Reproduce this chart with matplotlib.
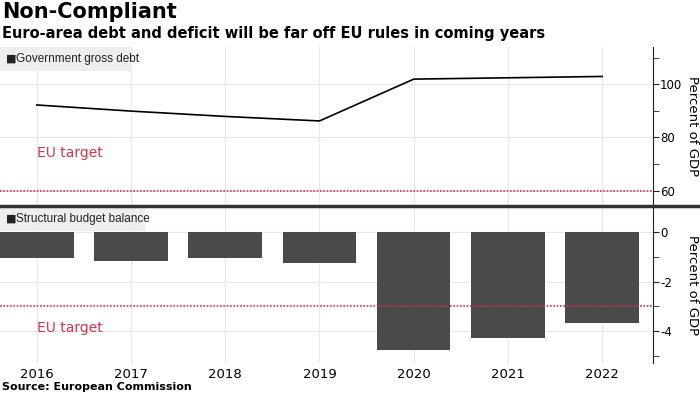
import matplotlib.pyplot as plt
from matplotlib.lines import Line2D
from matplotlib.patches import Rectangle

years = [2016, 2017, 2018, 2019, 2020, 2021, 2022]
debt = [92.2, 89.9, 87.9, 86.2, 101.9, 102.4, 102.9]
balance = [-1.04, -1.16, -1.06, -1.27, -4.76, -4.26, -3.67]
debt_target = 60
balance_target = -3

red = '#d9324b'
bar_color = '#4a4a4a'
grid_color = '#e8e8e8'

fig = plt.figure(figsize=(7, 3.94), dpi=100)
ax1 = fig.add_axes([0.0, 0.480, 0.933, 0.401])
ax2 = fig.add_axes([0.0, 0.079, 0.933, 0.396], sharex=ax1)

for ax in (ax1, ax2):
    for s in ('left', 'top', 'bottom'):
        ax.spines[s].set_visible(False)
    ax.spines['right'].set_color('#222222')
    ax.yaxis.tick_right()
    ax.yaxis.set_label_position('right')
    ax.tick_params(axis='y', direction='out', length=4, labelsize=8.5, pad=1, color='#222222')
    ax.tick_params(axis='y', which='minor', direction='out', length=4, color='#222222')
    ax.tick_params(axis='x', length=0, labelsize=9.5)
    ax.grid(True, color=grid_color, linewidth=0.8)
    ax.set_axisbelow(True)
    ax.set_ylabel('Percent of GDP', rotation=270, fontsize=9.5, va='center')
    ax.yaxis.set_label_coords(1.060, 0.5)


def legend_box(ax, label, width_px, height_frac):
    w = width_px / 653
    y = 1 - height_frac / 2
    ax.add_patch(Rectangle((0, 1 - height_frac), w, height_frac, transform=ax.transAxes,
                           facecolor='#eeeeee', edgecolor='none', zorder=4, clip_on=False))
    ax.text(0.009, y, '\u25a0', transform=ax.transAxes, fontsize=8, va='center', ha='left',
            color='#222222', zorder=5)
    ax.text(0.025, y, label, transform=ax.transAxes,
            fontsize=8.5, family=['Liberation Sans', 'DejaVu Sans'], va='center', ha='left',
            color='#222222', zorder=5)


# top panel: debt
ax1.plot(years, debt, color='black', linewidth=1.2)
ax1.axhline(debt_target, color=red, linestyle=(0, (1, 1)), linewidth=1.2)
ax1.set_ylim(54.7, 114)
ax1.set_yticks([60, 80, 100])
ax1.set_yticks([70, 90, 110], minor=True)
ax1.text(2016, 74, 'EU target', color=red, fontsize=10, va='center')
ax1.tick_params(axis='x', labelbottom=False)
legend_box(ax1, 'Government gross debt', 132, 24 / 158)

# bottom panel: structural balance
ax2.bar(years, balance, width=0.78, color=bar_color, zorder=2)
ax2.axhline(balance_target, color=red, linestyle=(0, (1, 1)), linewidth=1.2, zorder=3)
ax2.set_ylim(-5.27, 1.0)
ax2.set_yticks([-4, -2, 0])
ax2.set_yticklabels(['-4', '-2', '0'])
ax2.set_yticks([-5, -3, -1], minor=True)
ax2.text(2016, -3.85, 'EU target', color=red, fontsize=10, va='center')
ax2.set_xticks(years)
ax2.set_xticklabels([str(y) for y in years])
ax2.set_xlim(2015.61, 2022.54)
legend_box(ax2, 'Structural budget balance', 145, 24 / 156)

# separator between panels
fig.add_artist(Line2D([0, 1], [0.477, 0.477], color='#333333', linewidth=2.5))

fig.text(0.003, 0.995, 'Non-Compliant', fontsize=15, fontweight='bold', va='top')
fig.text(0.003, 0.935, 'Euro-area debt and deficit will be far off EU rules in coming years',
         fontsize=10.5, fontweight='bold', va='top')
fig.text(0.003, 0.005, 'Source: European Commission', fontsize=8, fontweight='bold', va='bottom')

fig.savefig('out.png', dpi=100)
